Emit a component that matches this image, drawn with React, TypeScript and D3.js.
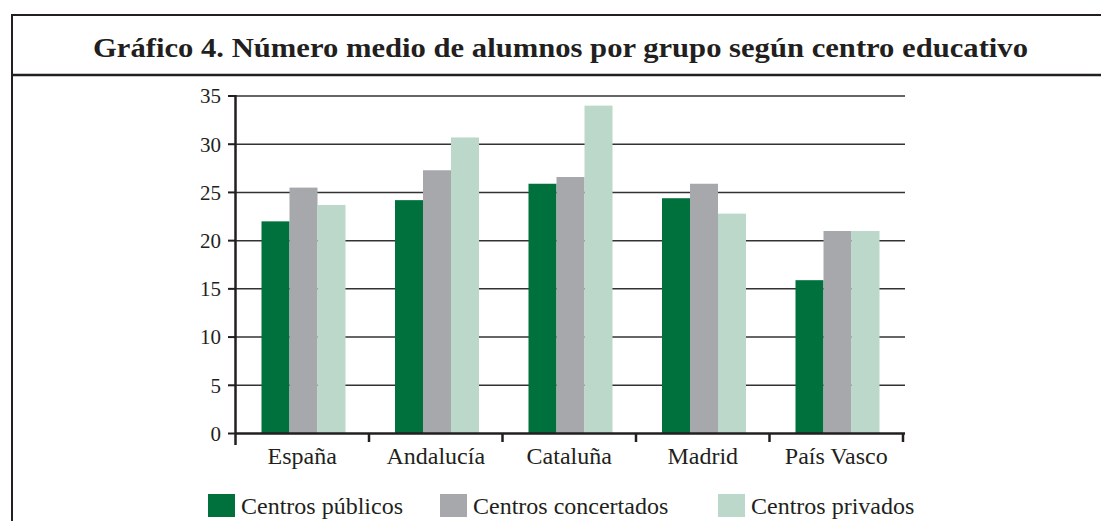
import React from "react";
import * as d3 from "d3";

const regions = ["España", "Andalucía", "Cataluña", "Madrid", "País Vasco"];
const seriesNames = ["Centros públicos", "Centros concertados", "Centros privados"];
const publicos = [22.0, 24.2, 25.9, 24.4, 15.9];
const concertados = [25.5, 27.3, 26.6, 25.9, 21.0];
const privados = [23.7, 30.7, 34.0, 22.8, 21.0];
const yTicks = [0, 5, 10, 15, 20, 25, 30, 35];
const colors = ["#00703c", "#a7a8ac", "#bbd8cb"];

const W = 1101;
const H = 521;
const ink = "#231f20";
const font = "'Liberation Serif', 'Times New Roman', serif";

export default function App() {
  const values = [publicos, concertados, privados];
  const y = d3.scaleLinear().domain([0, 35]).range([433.5, 96]);
  const x0 = d3.scaleBand().domain(regions).range([235.5, 903]).padding(0);
  const x1 = d3.scaleBand().domain(seriesNames).range([26, 110]).padding(0);
  const legendX = [208, 440, 718];

  return (
    <svg
      width={W}
      height={H}
      style={{ position: "absolute", left: 0, top: 0, background: "#fff" }}
      fontFamily={font}
    >
      {/* frame */}
      <path d={`M12,${H + 5} V15 H${W + 10}`} fill="none" stroke={ink} strokeWidth={2} />
      <line x1={12} x2={W + 10} y1={75} y2={75} stroke={ink} strokeWidth={2.5} />
      <text
        x={560.5}
        y={57}
        textAnchor="middle"
        fontWeight="bold"
        fontSize={28}
        fill={ink}
        textLength={935}
        lengthAdjust="spacingAndGlyphs"
      >
        Gráfico 4. Número medio de alumnos por grupo según centro educativo
      </text>

      {/* grid */}
      {yTicks.filter((t) => t > 0).map((t) => (
        <line key={t} x1={235} x2={905} y1={y(t)} y2={y(t)} stroke="#333" strokeWidth={1.5} />
      ))}

      {/* bars */}
      {regions.map((r, i) => (
        <g key={r} transform={`translate(${x0(r)},0)`}>
          {seriesNames.map((s, j) => (
            <rect
              key={s}
              x={x1(s)}
              y={y(values[j][i])}
              width={x1.bandwidth()}
              height={y(0) - y(values[j][i])}
              fill={colors[j]}
            />
          ))}
        </g>
      ))}

      {/* y axis */}
      <line x1={235.5} x2={235.5} y1={95} y2={445} stroke={ink} strokeWidth={2.5} />
      {yTicks.map((t) => (
        <g key={t}>
          <line x1={228} x2={236} y1={y(t)} y2={y(t)} stroke={ink} strokeWidth={2} />
          <text x={221} y={y(t)} dy="0.35em" textAnchor="end" fontSize={21} fill={ink}>
            {t}
          </text>
        </g>
      ))}

      {/* x axis */}
      <line x1={235} x2={905} y1={433.5} y2={433.5} stroke={ink} strokeWidth={2.5} />
      {regions.map((r) => (
        <g key={r}>
          <line
            x1={(x0(r) ?? 0) + x0.bandwidth()}
            x2={(x0(r) ?? 0) + x0.bandwidth()}
            y1={433}
            y2={442}
            stroke={ink}
            strokeWidth={2.5}
          />
          <text
            x={(x0(r) ?? 0) + x0.bandwidth() / 2}
            y={464}
            textAnchor="middle"
            fontSize={24}
            fill={ink}
          >
            {r}
          </text>
        </g>
      ))}

      {/* legend */}
      {seriesNames.map((s, j) => (
        <g key={s}>
          <rect x={legendX[j]} y={494} width={27} height={23} fill={colors[j]} />
          <text x={legendX[j] + 33} y={514} fontSize={24} fill={ink}>
            {s}
          </text>
        </g>
      ))}
    </svg>
  );
}
